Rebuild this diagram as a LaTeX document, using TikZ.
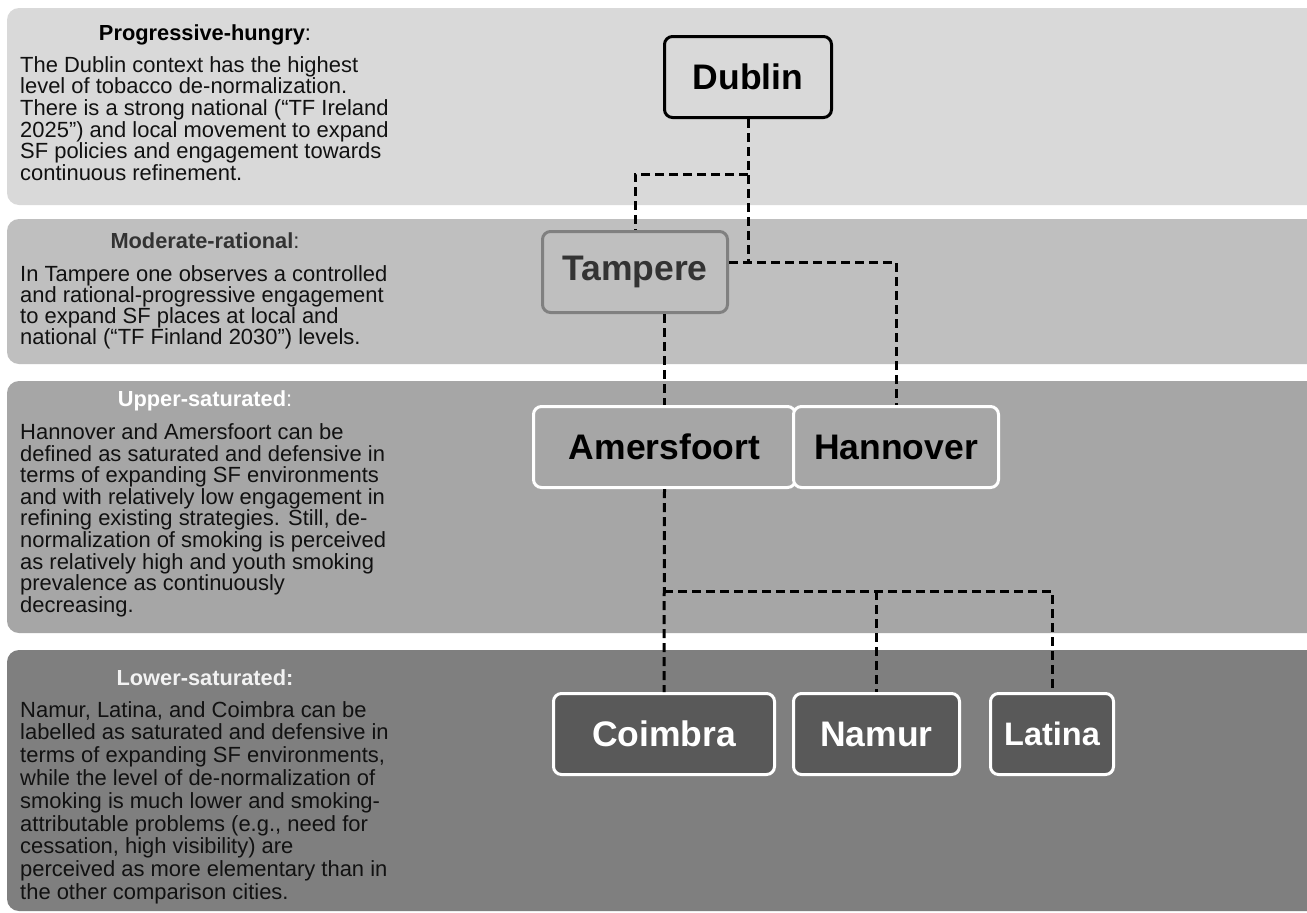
\documentclass[tikz,border=0pt]{standalone}
\usepackage{fontspec}
\setmainfont{Liberation Sans}
\definecolor{bandA}{HTML}{D9D9D9}
\definecolor{bandB}{HTML}{BFBFBF}
\definecolor{bandC}{HTML}{A6A6A6}
\definecolor{bandD}{HTML}{7F7F7F}
\definecolor{darknode}{HTML}{595959}
\definecolor{midgray}{HTML}{808080}
\definecolor{txtdark}{HTML}{333333}
\definecolor{txtblack}{HTML}{111111}
\begin{document}
\begin{tikzpicture}[x=1pt,y=-1pt,
  band/.style={rounded corners=12pt},
  city/.style={rectangle, rounded corners=8pt, line width=3pt, inner sep=0pt,
     minimum height=81pt, font=\fontsize{35.5}{36}\selectfont\bfseries},
  conn/.style={line width=3pt, dash pattern=on 9pt off 5pt, black},
  head/.style={anchor=base, inner sep=0pt, font=\fontsize{21.8}{22}\selectfont},
  body/.style={anchor=north west, inner sep=0pt, align=left, text=txtblack}
]
\useasboundingbox (0,0) rectangle (1307,913);
\clip (0,0) rectangle (1307,913);
\fill[white] (0,0) rectangle (1307,913);
% bands
\fill[band, bandA] (7,8) rectangle (1340,205);
\fill[band, bandB] (7,219) rectangle (1340,364);
\fill[band, bandC] (7,381) rectangle (1340,633);
\fill[band, bandD] (7,650) rectangle (1340,911);

% headings
\node[head, text=black] (h1) at (205,40) {\textbf{Progressive-hungry}:};
\node[head, text=txtdark] (h2) at (205,248) {\textbf{Moderate-rational}:};
\node[head, text=white] (h3) at (205,406.7) {\textbf{Upper-saturated}:};
\node[head, text=white!95!black] (h4) at (205,685) {\textbf{Lower-saturated:}};

% body texts
\node[body, font=\fontsize{21.95}{21.7}\selectfont] (t1) at (20,56.0) {The Dublin context has the highest\\level of tobacco de-normalization.\\There is a strong national (“TF Ireland\\2025\symbol{34}) and local movement to expand\\SF policies and engagement towards\\continuous refinement.};
\node[body, font=\fontsize{21.95}{21.1}\selectfont] (t2) at (20,265.3) {In Tampere one observes a controlled\\and rational-progressive engagement\\to expand SF places at local and\\national (“TF Finland 2030”) levels.};
\node[body, font=\fontsize{21.95}{21.6}\selectfont] (t3) at (20,423.3) {Hannover and Amersfoort can be\\defined as saturated and defensive in\\terms of expanding SF environments\\and with relatively low engagement in\\refining existing strategies. Still, de-\\normalization of smoking is perceived\\as relatively high and youth smoking\\prevalence as continuously\\decreasing.};
\node[body, font=\fontsize{21.95}{22.8}\selectfont] (t4) at (20,701.0) {Namur, Latina, and Coimbra can be\\labelled as saturated and defensive in\\terms of expanding SF environments,\\while the level of de-normalization of\\smoking is much lower and smoking-\\attributable problems (e.g., need for\\cessation, high visibility) are\\perceived as more elementary than in\\the other comparison cities.};

% city nodes
\node[city, draw=black, fill=bandA, text=black, minimum width=167pt] (Dublin) at (748,77) {Dublin};
\node[city, draw=midgray, fill=bandB, text=txtdark, minimum width=185pt] (Tampere) at (635,272) {Tampere};
\node[city, draw=white, fill=bandC, text=black, minimum width=262pt] (Amersfoort) at (664.5,447) {Amersfoort};
\node[city, draw=white, fill=bandC, text=black, minimum width=205pt] (Hannover) at (896,447) {Hannover};
\node[city, draw=white, fill=darknode, text=white, minimum width=221pt] (Coimbra) at (664,734) {Coimbra};
\node[city, draw=white, fill=darknode, text=white, minimum width=166pt] (Namur) at (876.5,734) {Namur};
\node[city, draw=white, fill=darknode, text=white, minimum width=123pt, font=\fontsize{32.5}{33}\selectfont\bfseries] (Latina) at (1052,734) {Latina};

% connectors
\coordinate (dj) at (748,174);
\coordinate (tj) at (748,262);
\coordinate (bj) at (664,591);
\draw[conn] (Dublin.south) -- (tj);
\draw[conn] (dj) -| (Tampere.north);
\draw[conn] (Tampere.east |- tj) -- (tj) -| (Hannover.north);
\draw[conn] (Tampere.south -| Amersfoort.north) -- (Amersfoort.north);
\draw[conn] (Amersfoort.south) -- (Coimbra.north);
\draw[conn] (bj) -| (Latina.north);
\draw[conn] (bj -| Namur.north) -- (Namur.north);
\end{tikzpicture}
\end{document}
